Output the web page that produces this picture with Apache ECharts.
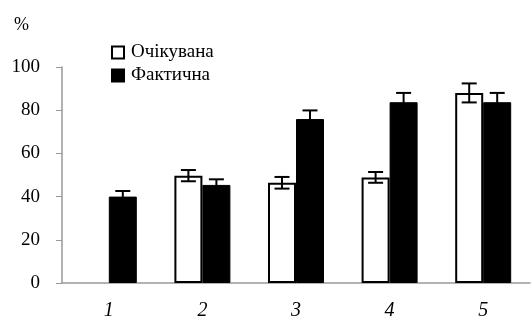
<!DOCTYPE html>
<html>
<head>
<meta charset="utf-8">
<script src="https://cdn.jsdelivr.net/npm/echarts@6/dist/echarts.min.js"></script>
<style>html,body{margin:0;padding:0;background:#fff}#c{width:531px;height:327px}</style>
</head>
<body>
<div id="c"></div>
<script>
var categories = ['1', '2', '3', '4', '5'];
var expected = [null, 49.7, 46.4, 48.9, 88.0];
var expectedErr = [null, 2.6, 2.7, 2.5, 4.4];
var actual = [40.0, 45.4, 75.9, 83.7, 83.7];
var actualErr = [2.6, 2.6, 4.0, 4.3, 4.3];
var yTicks = [0, 20, 40, 60, 80, 100];
var seriesNames = ['Очікувана', 'Фактична'];

var FONT = 'Liberation Serif';
var BAR_W = 28;

function errData(vals, errs) {
  var out = [];
  for (var i = 0; i < vals.length; i++) {
    if (vals[i] == null) continue;
    out.push([i, vals[i] - errs[i], vals[i] + errs[i]]);
  }
  return out;
}

function errRenderer(offset) {
  return function (params, api) {
    var idx = api.value(0);
    var lo = api.coord([idx, api.value(1)]);
    var hi = api.coord([idx, api.value(2)]);
    var x = lo[0] + offset;
    var cap = 7.5;
    var st = { stroke: '#000', lineWidth: 2 };
    return {
      type: 'group',
      children: [
        { type: 'line', shape: { x1: x, y1: lo[1], x2: x, y2: hi[1] }, style: st },
        { type: 'line', shape: { x1: x - cap, y1: lo[1], x2: x + cap, y2: lo[1] }, style: st },
        { type: 'line', shape: { x1: x - cap, y1: hi[1], x2: x + cap, y2: hi[1] }, style: st }
      ]
    };
  };
}

var chart = echarts.init(document.getElementById('c'));
chart.setOption({
  animation: false,
  backgroundColor: '#fff',
  textStyle: { fontFamily: FONT },
  title: {
    text: '%', left: 14, top: 16, padding: 0,
    textStyle: { fontFamily: FONT, fontSize: 18, fontWeight: 'normal', color: '#000' }
  },
  legend: {
    data: seriesNames,
    orient: 'vertical',
    left: 111, top: 43, padding: 0,
    icon: 'rect',
    itemWidth: 12, itemHeight: 12,
    itemGap: 4,
    textStyle: { fontFamily: FONT, fontSize: 19, color: '#000', lineHeight: 19, padding: [0, 0, 0, 2] }
  },
  grid: { left: 62, right: 1, top: 67, bottom: 44 },
  xAxis: {
    type: 'category',
    data: categories,
    axisLine: { lineStyle: { color: '#999', width: 1.5 } },
    axisTick: { inside: true, length: 7, lineStyle: { color: '#999' } },
    axisLabel: { fontFamily: FONT, fontStyle: 'italic', fontSize: 20, color: '#000', margin: 18 }
  },
  yAxis: {
    type: 'value',
    min: yTicks[0], max: yTicks[yTicks.length - 1], interval: 20,
    axisLine: { show: true, lineStyle: { color: '#999', width: 1.5 } },
    axisTick: { show: true, length: 6, lineStyle: { color: '#999' } },
    splitLine: { show: false },
    axisLabel: { fontFamily: FONT, fontSize: 19, color: '#000', margin: 22 }
  },
  series: [
    {
      name: seriesNames[0], type: 'bar', data: expected,
      barWidth: BAR_W, barGap: '0%',
      itemStyle: { color: '#fff', borderColor: '#000', borderWidth: 2 }
    },
    {
      name: seriesNames[1], type: 'bar', data: actual,
      barWidth: BAR_W, barGap: '0%',
      itemStyle: { color: '#000', borderColor: '#000', borderWidth: 1 }
    },
    {
      type: 'custom', renderItem: errRenderer(-BAR_W / 2),
      data: errData(expected, expectedErr), z: 5, silent: true
    },
    {
      type: 'custom', renderItem: errRenderer(BAR_W / 2),
      data: errData(actual, actualErr), z: 5, silent: true
    }
  ]
});
</script>
</body>
</html>
